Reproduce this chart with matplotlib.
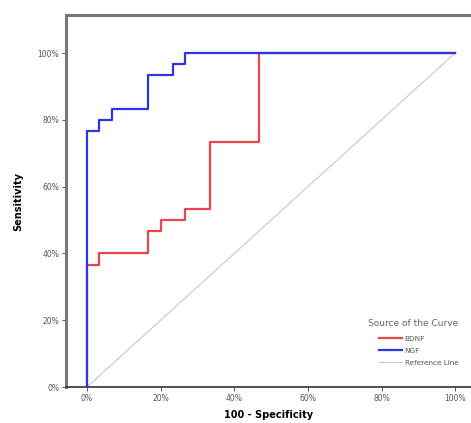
import matplotlib
matplotlib.use("Agg")
import matplotlib.pyplot as plt
import numpy as np

# ROC step data (in %)
bdnf_fpr = [0, 0, 3.33, 3.33, 16.67, 16.67, 20.0, 20.0, 26.67, 26.67, 33.33, 33.33, 46.67, 46.67, 100]
bdnf_tpr = [0, 36.67, 36.67, 40.0, 40.0, 46.67, 46.67, 50.0, 50.0, 53.33, 53.33, 73.33, 73.33, 100, 100]
ngf_fpr = [0, 0, 3.33, 3.33, 6.67, 6.67, 16.67, 16.67, 23.33, 23.33, 26.67, 26.67, 100]
ngf_tpr = [0, 76.67, 76.67, 80.0, 80.0, 83.33, 83.33, 93.33, 93.33, 96.67, 96.67, 100, 100]
ref_x = [0, 100]
ref_y = [0, 100]
ticks = [0, 20, 40, 60, 80, 100]
tick_labels = ["0%", "20%", "40%", "60%", "80%", "100%"]

fig = plt.figure(figsize=(4.71, 4.23), dpi=100)
ax = fig.add_axes([66/471, 36/423, (471-66)/471, (387-15)/423])

ax.plot(ref_x, ref_y, color="#c8c8c8", lw=0.8, label="Reference Line", zorder=1)
ax.plot(bdnf_fpr, bdnf_tpr, color="#e8454f", lw=1.6, label="BDNF", zorder=2)
ax.plot(ngf_fpr, ngf_tpr, color="#2a36e0", lw=1.6, label="NGF", zorder=3)

ax.set_xlim(-5.7, 104.3)
ax.set_ylim(0, 111.4)
ax.set_xticks(ticks)
ax.set_xticklabels(tick_labels)
ax.set_yticks(ticks)
ax.set_yticklabels(tick_labels)
ax.tick_params(axis="both", labelsize=5.5, colors="#555555", length=3, width=0.7, pad=2)

for s in ["left", "top"]:
    ax.spines[s].set_color("#777777")
    ax.spines[s].set_linewidth(2.2)
ax.spines["bottom"].set_color("#333333")
ax.spines["bottom"].set_linewidth(1.2)
ax.spines["right"].set_visible(False)

ax.set_xlabel("100 - Specificity", fontsize=7, fontweight="bold", labelpad=5)
ax.set_ylabel("Sensitivity", fontsize=7, fontweight="bold", labelpad=10)

h, l = ax.get_legend_handles_labels()
order = [1, 2, 0]
leg = ax.legend([h[i] for i in order], [l[i] for i in order], title="Source of the Curve",
                loc="lower right", bbox_to_anchor=(0.985, 0.04), frameon=False,
                fontsize=5.2, title_fontsize=6.5, handlelength=3.2, handletextpad=0.4,
                labelspacing=0.8)
leg._legend_box.align = "right"
leg._legend_box.sep = 6
for t in leg.get_texts():
    t.set_color("#555555")
leg.get_title().set_color("#666666")

fig.savefig("out.png", dpi=100)
